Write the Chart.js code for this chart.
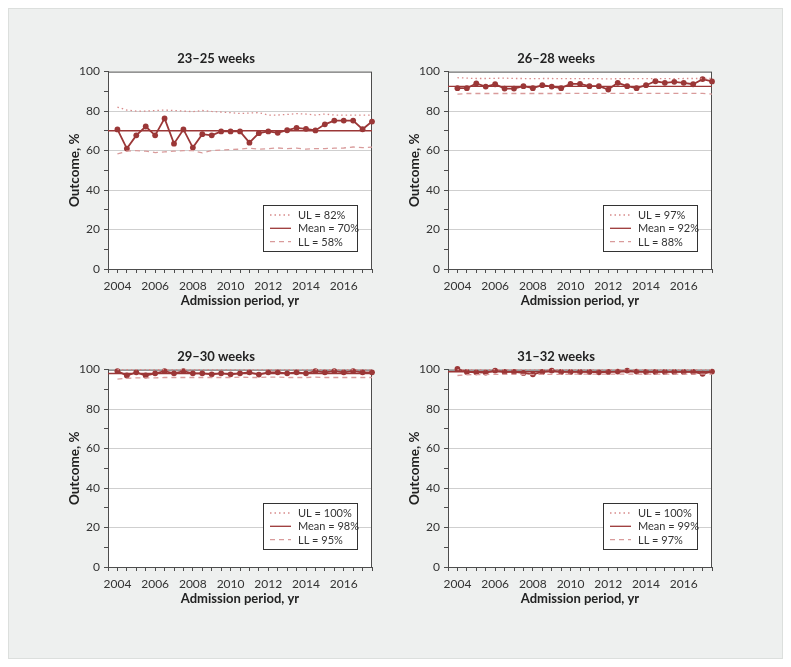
<!DOCTYPE html>
<html>
<head>
<meta charset="utf-8">
<script src="https://cdn.jsdelivr.net/npm/chart.js@4/dist/chart.umd.min.js"></script>
<style>
  body { margin: 0; background: #fff; width: 791px; height: 667px; position: relative; overflow: hidden; }
  #bg { position: absolute; left: 8px; top: 8px; width: 773px; height: 649px; background: #eef0ef; border: 1px solid #dcdfdd; }
  canvas { position: absolute; }
</style>
</head>
<body>
<div id="bg"></div>
<canvas id="c1" width="320" height="270" style="left:60px;top:40px"></canvas>
<canvas id="c2" width="320" height="270" style="left:400px;top:40px"></canvas>
<canvas id="c3" width="320" height="270" style="left:60px;top:338px"></canvas>
<canvas id="c4" width="320" height="270" style="left:400px;top:338px"></canvas>
<script>
/* ===== データ ===== */
const periods = [2004, 2004.5, 2005, 2005.5, 2006, 2006.5, 2007, 2007.5, 2008, 2008.5,
  2009, 2009.5, 2010, 2010.5, 2011, 2011.5, 2012, 2012.5, 2013, 2013.5,
  2014, 2014.5, 2015, 2015.5, 2016, 2016.5, 2017, 2017.5];
const xTicks = [2004, 2006, 2008, 2010, 2012, 2014, 2016];
const yTicks = [0, 20, 40, 60, 80, 100];

const titles = ['23–25 weeks', '26–28 weeks', '29–30 weeks', '31–32 weeks'];
const means = [70, 92.5, 98, 98.9];
const legendUL = ['UL = 82%', 'UL = 97%', 'UL = 100%', 'UL = 100%'];
const legendMean = ['Mean = 70%', 'Mean = 92%', 'Mean = 98%', 'Mean = 99%'];
const legendLL = ['LL = 58%', 'LL = 88%', 'LL = 95%', 'LL = 97%'];

const outcome1 = [70.7, 61.0, 67.7, 72.2, 67.7, 76.3, 63.5, 70.7, 61.5, 68.3, 67.7, 69.7, 69.7, 69.7,
  64.0, 68.8, 69.7, 69.0, 70.3, 71.5, 71.0, 70.2, 73.3, 75.2, 75.2, 75.2, 70.8, 74.7];
const ul1 = [82.0, 80.5, 80.0, 80.0, 80.3, 80.5, 80.3, 80.0, 79.7, 80.3, 79.8, 79.5, 79.2, 78.8,
  79.0, 79.2, 78.0, 78.0, 78.3, 78.7, 78.5, 78.0, 78.5, 78.0, 78.0, 78.0, 78.0, 78.0];
const ll1 = [58.3, 59.7, 60.0, 59.7, 59.0, 59.3, 59.7, 60.0, 60.0, 58.8, 60.0, 60.3, 60.5, 60.7,
  61.2, 60.7, 61.0, 61.3, 61.0, 61.2, 60.7, 61.0, 61.0, 61.2, 61.3, 61.8, 61.5, 61.7];

const outcome2 = [91.6, 91.6, 94.0, 92.4, 93.6, 91.4, 91.4, 92.6, 91.6, 93.1, 92.4, 91.6, 93.8, 93.8,
  92.6, 92.6, 90.9, 94.3, 92.6, 91.6, 93.1, 95.1, 94.3, 94.8, 94.3, 93.6, 96.2, 95.0];
const ul2 = [96.9, 96.7, 96.5, 96.5, 96.6, 96.7, 96.5, 96.5, 96.4, 96.5, 96.5, 96.4, 96.4, 96.4,
  96.4, 96.4, 96.3, 96.4, 96.4, 96.4, 96.4, 96.4, 96.4, 96.4, 96.5, 96.5, 96.5, 96.5];
const ll2 = [88.6, 88.9, 88.9, 88.9, 88.9, 88.9, 88.9, 88.9, 88.9, 88.9, 88.9, 88.9, 89.0, 89.0,
  89.0, 89.0, 88.9, 89.0, 89.0, 89.0, 89.0, 89.0, 89.0, 89.0, 89.0, 89.0, 89.0, 88.6];

const outcome3 = [99.2, 97.0, 98.6, 97.0, 98.1, 99.2, 98.1, 99.2, 98.1, 98.1, 97.6, 98.1, 97.6, 98.1,
  98.6, 97.5, 98.6, 98.6, 98.1, 98.6, 98.1, 99.2, 98.6, 99.2, 98.6, 99.2, 98.6, 98.6];
const ul3 = [100, 100, 100, 100, 100, 100, 100, 100, 100, 100, 100, 100, 100, 100,
  100, 100, 100, 100, 100, 100, 100, 100, 100, 100, 100, 100, 100, 100];
const ll3 = [95.2, 95.6, 95.8, 95.8, 95.8, 96.0, 96.0, 96.0, 96.0, 96.0, 96.0, 96.0, 96.0, 96.2,
  96.0, 96.0, 96.2, 96.2, 96.0, 96.0, 96.0, 96.2, 96.0, 96.0, 96.0, 96.0, 96.0, 96.0];

const outcome4 = [100.3, 98.8, 98.6, 98.5, 99.5, 98.8, 98.8, 98.3, 97.6, 98.8, 99.5, 98.8, 98.8, 98.8,
  98.8, 98.6, 98.8, 99.0, 99.5, 99.0, 98.8, 98.8, 98.8, 98.8, 98.8, 98.8, 97.9, 99.0];
const ul4 = [100, 100, 100, 100, 100, 100, 100, 100, 100, 100, 100, 100, 100, 100,
  100, 100, 100, 100, 100, 100, 100, 100, 100, 100, 100, 100, 100, 100];
const ll4 = [97.0, 97.4, 97.5, 97.5, 97.6, 97.6, 97.6, 97.6, 97.5, 97.6, 97.6, 97.6, 97.7, 97.7,
  97.7, 97.7, 97.7, 97.7, 97.7, 97.7, 97.7, 97.7, 97.7, 97.7, 97.7, 97.7, 97.7, 97.7];

const outcomes = [outcome1, outcome2, outcome3, outcome4];
const uls = [ul1, ul2, ul3, ul4];
const lls = [ll1, ll2, ll3, ll4];

/* ===== スタイル ===== */
const RED = '#9b3737';
const UL_C = '#d88a8a';
const LL_C = '#d99b9b';
const FRAME = '#4d4d4d';
const FONT = "'Source Sans Pro', Lato, 'Open Sans', sans-serif";
const X_MIN = 2003.5, X_MAX = 2017.5;

/* プロット枠と白背景 */
const framePlugin = {
  id: 'frame',
  beforeDraw(chart) {
    const { ctx, chartArea: a } = chart;
    ctx.save();
    ctx.fillStyle = '#fff';
    ctx.fillRect(a.left, a.top, a.right - a.left, a.bottom - a.top);
    ctx.restore();
  },
  beforeDatasetsDraw(chart) {
    const { ctx, chartArea: a } = chart;
    ctx.save();
    ctx.strokeStyle = FRAME;
    ctx.lineWidth = 1;
    ctx.strokeRect(a.left + .5, a.top + .5, a.right - a.left - 1, a.bottom - a.top);
    ctx.restore();
  },
};

/* 枠付き凡例（プロット内右下） */
const boxLegend = {
  id: 'boxLegend',
  afterDraw(chart, args, opts) {
    const { ctx, chartArea: a } = chart;
    const w = 94, h = 46;
    const x = a.right - 15 - w, y = a.bottom - 18 - h;
    ctx.save();
    ctx.fillStyle = '#fff';
    ctx.fillRect(x, y, w, h);
    ctx.strokeStyle = '#333';
    ctx.lineWidth = 1;
    ctx.strokeRect(x + .5, y + .5, w, h);
    const rows = [
      { t: opts.ul, c: UL_C, dash: [1.5, 3] },
      { t: opts.mean, c: RED, dash: [] },
      { t: opts.ll, c: LL_C, dash: [5, 4] },
    ];
    ctx.font = '11px ' + FONT;
    ctx.textBaseline = 'middle';
    rows.forEach((r, i) => {
      const cy = y + 10 + i * 13.3;
      ctx.strokeStyle = r.c;
      ctx.lineWidth = 1.3;
      ctx.setLineDash(r.dash);
      ctx.beginPath();
      ctx.moveTo(x + 7, cy);
      ctx.lineTo(x + 28, cy);
      ctx.stroke();
      ctx.setLineDash([]);
      ctx.fillStyle = '#333';
      ctx.fillText(r.t, x + 35, cy + .5);
    });
    ctx.restore();
  },
};

function makeChart(id, i) {
  const ctx = document.getElementById(id).getContext('2d');
  const pts = arr => periods.map((p, k) => ({ x: p, y: arr[k] }));
  return new Chart(ctx, {
    type: 'line',
    data: {
      datasets: [
        { label: 'UL', data: pts(uls[i]), borderColor: UL_C, borderWidth: 1.3, borderDash: [1.5, 3], pointRadius: 0, clip: false },
        { label: 'LL', data: pts(lls[i]), borderColor: LL_C, borderWidth: 1.3, borderDash: [5, 4], pointRadius: 0, clip: false },
        { label: 'Mean', data: [{ x: X_MIN, y: means[i] }, { x: X_MAX, y: means[i] }], borderColor: RED, borderWidth: 1.4, pointRadius: 0, clip: false },
        { label: 'Outcome', data: pts(outcomes[i]), borderColor: RED, backgroundColor: RED, borderWidth: 1.8,
          pointRadius: 2.9, pointBackgroundColor: RED, pointBorderWidth: 0, tension: 0, clip: false },
      ],
    },
    options: {
      responsive: false,
      animation: false,
      events: [],
      layout: { padding: { right: 8, left: 0, top: 0, bottom: 0 } },
      plugins: {
        legend: { display: false },
        tooltip: { enabled: false },
        title: { display: true, text: titles[i], color: '#222', font: { family: FONT, size: 13, weight: 'bold' },
          padding: { top: 11, bottom: 5 } },
        boxLegend: { ul: legendUL[i], mean: legendMean[i], ll: legendLL[i] },
      },
      scales: {
        x: {
          type: 'linear', min: X_MIN, max: X_MAX,
          afterFit: s => { s.height = 41; },
          afterBuildTicks: s => { s.ticks = periods.concat([X_MIN]).sort((a, b) => a - b).map(v => ({ value: v })); },
          grid: { drawOnChartArea: false, tickLength: 4, tickColor: FRAME },
          border: { color: FRAME },
          ticks: { autoSkip: false, maxRotation: 0, padding: 6, color: '#333', font: { family: FONT, size: 12 },
            callback: v => xTicks.includes(v) ? String(v) : '' },
          title: { display: true, text: 'Admission period, yr', color: '#222', font: { family: FONT, size: 13, weight: 'bold' },
            padding: { top: 0, bottom: 1 } },
        },
        y: {
          min: 0, max: 100,
          afterFit: s => { s.width = 48; },
          grid: { color: c => (yTicks.includes(c.tick.value) && c.tick.value > 0 && c.tick.value < 100) ? '#cfcfcf' : 'rgba(0,0,0,0)',
            tickLength: 4, tickColor: FRAME },
          border: { color: FRAME },
          ticks: { stepSize: 10, autoSkip: false, padding: 4, color: '#333', font: { family: FONT, size: 12 },
            callback: v => yTicks.includes(v) ? String(v) : '' },
          title: { display: true, text: 'Outcome, %', color: '#222', font: { family: FONT, size: 13.5, weight: 'bold' },
            padding: { top: 7, bottom: 0 } },
        },
      },
    },
    plugins: [framePlugin, boxLegend],
  });
}

['c1', 'c2', 'c3', 'c4'].forEach((id, i) => makeChart(id, i));
</script>
</body>
</html>
